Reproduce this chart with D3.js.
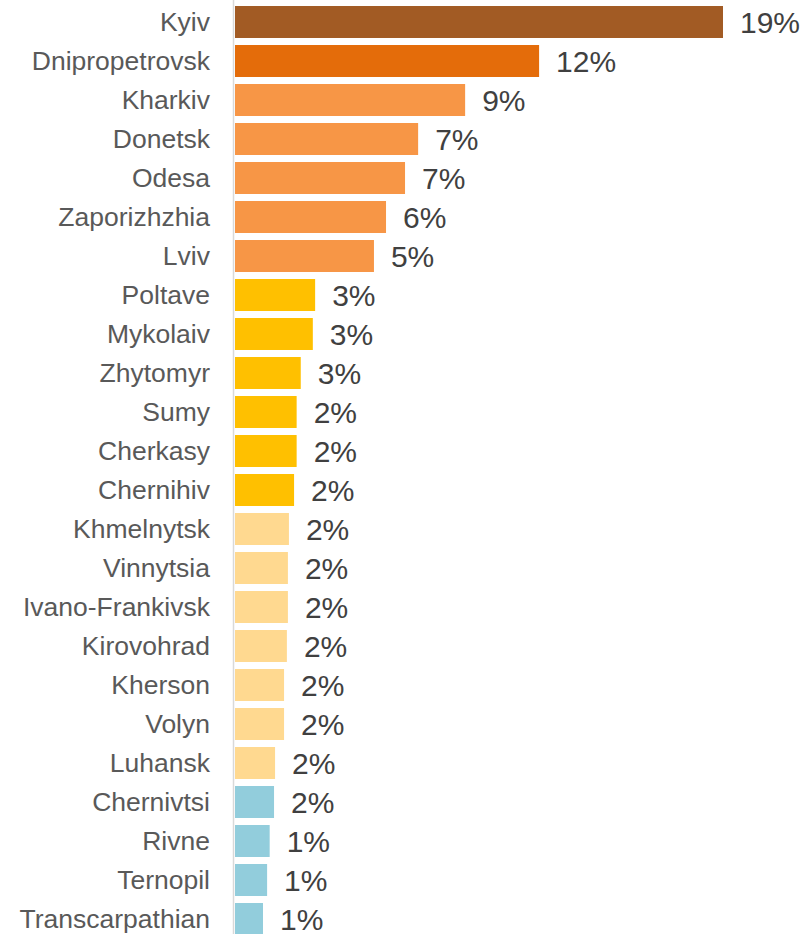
<!DOCTYPE html>
<html><head><meta charset="utf-8">
<script src="https://cdn.jsdelivr.net/npm/d3@7"></script>
<style>html,body{margin:0;padding:0;background:#fff;}svg{display:block;}</style>
</head><body>
<script>
const categories = ["Kyiv","Dnipropetrovsk","Kharkiv","Donetsk","Odesa","Zaporizhzhia","Lviv","Poltave","Mykolaiv","Zhytomyr","Sumy","Cherkasy","Chernihiv","Khmelnytsk","Vinnytsia","Ivano-Frankivsk","Kirovohrad","Kherson","Volyn","Luhansk","Chernivtsi","Rivne","Ternopil","Transcarpathian"];
const values = [19.0,11.84,8.96,7.13,6.62,5.88,5.41,3.12,3.03,2.56,2.40,2.40,2.30,2.10,2.06,2.06,2.02,1.91,1.91,1.56,1.52,1.35,1.25,1.09];
const groups = [0,1,2,2,2,2,2,3,3,3,3,3,3,4,4,4,4,4,4,4,5,5,5,5];
const groupColors = ["#A25B24","#E46C0A","#F79646","#FFC000","#FFD990","#92CDDC"];

const W = 805, H = 934;
const svg = d3.select("body").append("svg").attr("width", W).attr("height", H);

const x = d3.scaleLinear().domain([0, 19]).range([235, 723]);
const y = d3.scaleBand().domain(categories).range([2.5, 938.5]).paddingInner(0.18).paddingOuter(0.09);

const data = categories.map((c, i) => ({c, v: values[i], g: groups[i]}));

svg.selectAll("rect.bar").data(data).join("rect")
  .attr("class", "bar")
  .attr("x", x(0))
  .attr("y", d => y(d.c))
  .attr("width", d => x(d.v) - x(0))
  .attr("height", y.bandwidth())
  .attr("fill", d => groupColors[d.g]);

svg.append("line")
  .attr("x1", 233.5).attr("x2", 233.5).attr("y1", 0).attr("y2", H)
  .attr("stroke", "#d9d9d9").attr("stroke-width", 1.5);

svg.selectAll("text.cat").data(data).join("text")
  .attr("class", "cat")
  .attr("x", 210)
  .attr("y", d => y(d.c) + y.bandwidth() / 2 + 8.5)
  .attr("text-anchor", "end")
  .attr("font-family", "Liberation Sans, Arial, sans-serif")
  .attr("font-size", 26.5)
  .attr("fill", "#595959")
  .text(d => d.c);

svg.selectAll("text.val").data(data).join("text")
  .attr("class", "val")
  .attr("x", d => x(d.v) + 17)
  .attr("y", d => y(d.c) + y.bandwidth() / 2 + 11)
  .attr("font-family", "Liberation Sans, Arial, sans-serif")
  .attr("font-size", 30)
  .attr("fill", "#404040")
  .text(d => Math.round(d.v) + "%");
</script>
</body></html>
